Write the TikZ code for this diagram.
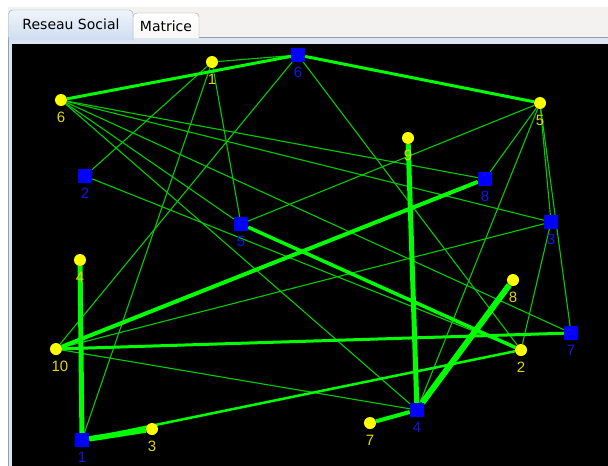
\documentclass[tikz,border=0pt]{standalone}
\usepackage{fontspec}
\setmainfont{Liberation Sans}
\newfontfamily\tabfont{DejaVu Sans}
\usetikzlibrary{positioning}
\definecolor{nodeyel}{RGB}{255,255,0}
\definecolor{labyel}{RGB}{225,215,0}
\definecolor{nodeblu}{RGB}{0,0,255}
\definecolor{labblu}{RGB}{20,20,235}
\definecolor{linkgrn}{RGB}{0,255,0}
\definecolor{thingrn}{RGB}{0,205,0}
\definecolor{tabgray}{RGB}{243,242,240}
\definecolor{tabline}{RGB}{150,160,172}
\definecolor{tabsel}{RGB}{205,221,240}
\definecolor{tabband}{RGB}{220,229,240}
\pgfdeclarelayer{panel}
\pgfdeclarelayer{edges}
\pgfsetlayers{panel,edges,main}

\begin{document}
\begin{tikzpicture}[
  x=1pt, y=-1pt,
  every node/.style={font=\fontsize{15}{15}\selectfont},
  ynode/.style={circle, fill=nodeyel, minimum size=12pt, inner sep=0pt, label distance=0pt},
  bnode/.style={rectangle, fill=nodeblu, minimum size=14pt, inner sep=0pt, label distance=0pt},
  ylab/.style={text=labyel, inner sep=0pt, yshift=-6pt},
  blab/.style={text=labblu, inner sep=0pt, yshift=-5pt},
  lnk/.style={draw=thingrn, line width=1.1pt},
  lnkmid/.style={draw=linkgrn, line width=3pt},
  lnkbig/.style={draw=linkgrn, line width=5pt},
  tabtxt/.style={font=\tabfont\fontsize{14}{14}\selectfont, text=black, inner sep=0pt},
]
\useasboundingbox (0,0) rectangle (608,466);
% window and tabs
\begin{pgfonlayer}{panel}
\fill[white] (0,0) rectangle (608,466);
\fill[tabgray] (8,7) rectangle (608,37);
\fill[tabband] (8,37) rectangle (608,44);
\fill[tabband] (8,37) rectangle (12,466);
\draw[tabline] (8,37.5) -- (608,37.5);
\draw[tabline] (8.5,37) -- (8.5,466);
\shade[top color=white, bottom color=tabgray!60!white, draw=tabline, rounded corners=4pt]
  (133,38) -- (133,13) -- (199,13) -- (199,38);
\shade[top color=white!70!tabsel, bottom color=tabsel, draw=tabline, rounded corners=4pt]
  (8.5,40) -- (8.5,10) -- (133,10) -- (133,40);
\fill[black] (12,44) rectangle (608,466);
\end{pgfonlayer}
\node[tabtxt] (tabnet) at (71,24) {Reseau Social};
\node[tabtxt] (tabmat) at (166,26) {Matrice};
% yellow nodes
\node[ynode, label={[ylab]below:1}]  (y1)  at (212,62)  {};
\node[ynode, label={[ylab]below:6}]  (y6)  at (61,100)  {};
\node[ynode, label={[ylab]below:5}]  (y5)  at (540,103) {};
\node[ynode, label={[ylab]below:9}]  (y9)  at (408,138) {};
\node[ynode, label={[ylab]below:4}]  (y4)  at (80,260)  {};
\node[ynode, label={[ylab,xshift=4pt]below:10}] (y10) at (56,349) {};
\node[ynode, label={[ylab]below:3}]  (y3)  at (152,429) {};
\node[ynode, label={[ylab]below:8}]  (y8)  at (513,280) {};
\node[ynode, label={[ylab]below:2}]  (y2)  at (521,350) {};
\node[ynode, label={[ylab]below:7}]  (y7)  at (370,423) {};
% blue nodes
\node[bnode, label={[blab]below:6}]  (b6)  at (298,55)  {};
\node[bnode, label={[blab]below:2}]  (b2)  at (85,176)  {};
\node[bnode, label={[blab]below:5}]  (b5)  at (241,224) {};
\node[bnode, label={[blab]below:8}]  (b8)  at (485,179) {};
\node[bnode, label={[blab]below:3}]  (b3)  at (551,222) {};
\node[bnode, label={[blab]below:7}]  (b7)  at (571,333) {};
\node[bnode, label={[blab]below:4}]  (b4)  at (417,410) {};
\node[bnode, label={[blab]below:1}]  (b1)  at (82,440)  {};
% links
\begin{pgfonlayer}{edges}
\draw[lnk] (y1) -- (b6);
\draw[lnk] (y1) -- (b2);
\draw[lnk] (y1) -- (b1);
\draw[lnk] (y1) -- (b5);
\draw[lnk] (b6) -- (y10);
\draw[lnk] (b6) -- (y2);
\draw[lnk] (y6) -- (b8);
\draw[lnk] (y6) -- (b3);
\draw[lnk] (y6) -- (b7);
\draw[lnk] (y6) -- (b5);
\draw[lnk] (y6) -- (b4);
\draw[lnk] (y5) -- (b5);
\draw[lnk] (y5) -- (b8);
\draw[lnk] (y5) -- (b4);
\draw[lnk] (y5) -- (b3);
\draw[lnk] (y5) -- (b7);
\draw[lnk] (y10) -- (b3);
\draw[lnk] (y10) -- (b4);
\draw[lnk] (b3) -- (y2);
\draw[lnk] (b2) -- (y2);
\draw[lnkmid] (y6) -- (b6);
\draw[lnkmid] (b6) -- (y5);
\draw[lnkmid] (y10) -- (b7);
\draw[lnkmid, line width=2.5pt] (b1) -- (y2);
\draw[lnkmid, line width=4pt] (y7) -- (b4);
\draw[lnkbig, line width=3.5pt] (b5) -- (y2);
\draw[lnkbig, line width=4pt] (y10) -- (b8);
\draw[lnkbig] (y4) -- (b1);
\draw[lnkbig] (y9) -- (b4);
\draw[lnkbig, line width=6pt] (y8) -- (b4);
\draw[lnkbig, line width=5.5pt] (b1) -- (y3);
\end{pgfonlayer}
\end{tikzpicture}
\end{document}
